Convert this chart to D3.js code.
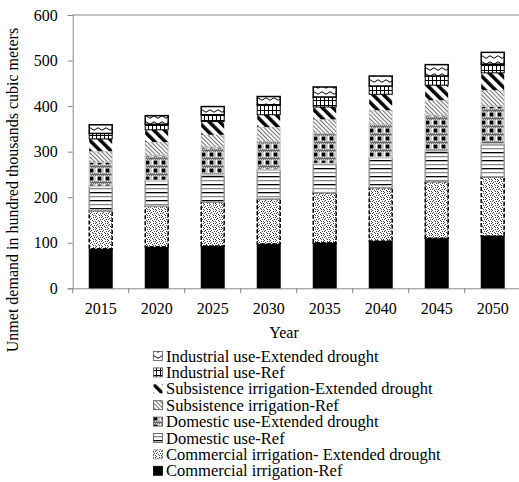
<!DOCTYPE html>
<html><head><meta charset="utf-8">
<script src="https://cdn.jsdelivr.net/npm/d3@7"></script>
<style>body{margin:0;background:#fff}svg{display:block}text{font-family:"Liberation Serif","Times New Roman",serif;fill:#000}</style>
</head><body>
<svg id="c" width="519" height="482"></svg>
<script>
const years = ["2015","2020","2025","2030","2035","2040","2045","2050"];
const commRef = [87, 91, 93, 97, 100, 104, 110, 115];
const commExt = [83, 89, 97, 99, 110, 117, 124, 130];
const domRef  = [54, 57, 59, 64, 64, 66, 67, 72];
const domExt  = [53, 55, 61, 62, 66, 73, 79, 83];
const subRef  = [24, 29, 27, 32, 31, 31, 33, 35];
const subExt  = [27, 27, 29, 27, 27, 35, 33, 38];
const indRef  = [12, 12, 15, 22, 22, 18, 20, 19];
const indExt  = [19, 19, 18, 18, 22, 22, 25, 26];
const seriesNames = ["Commercial irrigation-Ref","Commercial irrigation- Extended drought","Domestic use-Ref","Domestic use-Extended drought","Subsistence irrigation-Ref","Subsistence irrigation-Extended drought","Industrial use-Ref","Industrial use-Extended drought"];
const seriesKeys = ["commRef","commExt","domRef","domExt","subRef","subExt","indRef","indExt"];
const seriesVals = [commRef,commExt,domRef,domExt,subRef,subExt,indRef,indExt];
const yTicks = [0,100,200,300,400,500,600];

const svg = d3.select("#c");
const defs = svg.append("defs");

function pat(id, w, h, build, transform){
  const p = defs.append("pattern").attr("id", id).attr("patternUnits","userSpaceOnUse").attr("width", w).attr("height", h);
  if (transform) p.attr("patternTransform", transform);
  p.append("rect").attr("width", w).attr("height", h).attr("fill", "#fff");
  build(p);
}
pat("p-commExt", 6, 6, p => {
  [[0,0],[3,1],[1,2],[4,3],[2,4],[5,5],[0,3],[3,5],[5,1]].forEach(([x,y]) =>
    p.append("rect").attr("x",x).attr("y",y).attr("width",1).attr("height",1).attr("fill","#444"));
});
pat("p-domRef", 8, 8, p => {
  p.append("rect").attr("x",0).attr("y",0).attr("width",8).attr("height",1.3).attr("fill","#000");
  p.append("rect").attr("x",0).attr("y",4).attr("width",8).attr("height",1.3).attr("fill","#888");
});
pat("p-domExt", 8, 8, p => {
  p.append("rect").attr("x",6).attr("y",0).attr("width",2).attr("height",8).attr("fill","#ccc");
  p.append("rect").attr("x",1.5).attr("y",0.5).attr("width",4).attr("height",4).attr("fill","#000");
  p.append("rect").attr("x",0).attr("y",5.5).attr("width",8).attr("height",2).attr("fill","#999");
  [0,2,4,6].forEach(x => p.append("rect").attr("x",x).attr("y",5.5).attr("width",1).attr("height",1).attr("fill","#333"));
  [1,3,5,7].forEach(x => p.append("rect").attr("x",x).attr("y",6.5).attr("width",1).attr("height",1).attr("fill","#333"));
});
pat("p-subRef", 3, 3, p => {
  p.append("rect").attr("x",0).attr("y",0).attr("width",1.1).attr("height",3).attr("fill","#777");
}, "rotate(-45)");
pat("p-subExt", 7.5, 8, p => {
  p.append("rect").attr("x",0).attr("y",0).attr("width",3.5).attr("height",8).attr("fill","#000");
}, "rotate(-45)");
pat("p-indRef", 4, 5, p => {
  p.append("rect").attr("x",0).attr("y",0).attr("width",1).attr("height",5).attr("fill","#000");
  p.append("rect").attr("x",0).attr("y",0).attr("width",4).attr("height",1).attr("fill","#000");
});
pat("p-indExt", 8, 6, p => {
  p.append("path").attr("d","M0 3 Q2 0.5 4 3 T8 3").attr("fill","none").attr("stroke","#000").attr("stroke-width",1);
});

const styles = {
  commRef: {fill:"#000", stroke:"#000", dash:null, sw:1},
  commExt: {fill:"url(#p-commExt)", stroke:"#000", dash:"4,2", sw:1.5},
  domRef:  {fill:"url(#p-domRef)", stroke:"#999", dash:null, sw:1.5},
  domExt:  {fill:"url(#p-domExt)", stroke:"#ccc", dash:null, sw:1.5},
  subRef:  {fill:"url(#p-subRef)", stroke:"#aaa", dash:"1,1", sw:1},
  subExt:  {fill:"url(#p-subExt)", stroke:"#fff", dash:null, sw:0},
  indRef:  {fill:"url(#p-indRef)", stroke:"#000", dash:null, sw:1},
  indExt:  {fill:"url(#p-indExt)", stroke:"#000", dash:null, sw:1.5}
};

const x = d3.scaleBand().domain(years).range([72.7, 520.7]).paddingInner(0.59).paddingOuter(0.295);
const y = d3.scaleLinear().domain([0, 600]).range([288.3, 15]);

svg.append("line").attr("x1", 72.7).attr("x2", 519).attr("y1", y(600)).attr("y2", y(600)).attr("stroke", "#868686").attr("stroke-width", 1);

const table = years.map((yr, i) => {
  const o = {year: yr};
  seriesKeys.forEach((k, j) => o[k] = seriesVals[j][i]);
  return o;
});
const stacked = d3.stack().keys(seriesKeys)(table);

stacked.forEach(layer => {
  const st = styles[layer.key];
  svg.append("g").selectAll("rect").data(layer).join("rect")
    .attr("x", d => x(d.data.year))
    .attr("width", x.bandwidth())
    .attr("y", d => y(d[1]))
    .attr("height", d => y(d[0]) - y(d[1]))
    .attr("fill", st.fill)
    .attr("stroke", st.sw ? st.stroke : "none")
    .attr("stroke-width", st.sw)
    .attr("stroke-dasharray", st.dash);
});

const yAxis = svg.append("g").attr("transform", "translate(72.7,0)")
  .call(d3.axisLeft(y).tickValues(yTicks).tickSize(5).tickPadding(10));
yAxis.selectAll("path,line").attr("stroke", "#898989");
yAxis.selectAll("text").style("font-size", "16px").style("font-family", '"Liberation Serif", serif');

const xAxis = svg.append("g").attr("transform", "translate(0,288.3)")
  .call(d3.axisBottom(x).tickSize(0).tickPadding(14));
xAxis.select("path").attr("stroke", "#898989");
xAxis.selectAll("text").style("font-size", "16px").style("font-family", '"Liberation Serif", serif');
const bounds = years.map(yr => x(yr) - x.step() * x.paddingInner() / 2);
bounds.push(x(years[years.length - 1]) + x.bandwidth() + x.step() * x.paddingInner() / 2);
xAxis.selectAll("line.bt").data(bounds).join("line").attr("class", "bt")
  .attr("x1", d => d).attr("x2", d => d).attr("y1", 0).attr("y2", 5).attr("stroke", "#898989");

svg.append("text").attr("x", 284).attr("y", 338).attr("text-anchor", "middle").style("font-size", "16px").text("Year");
svg.append("text").attr("transform", "translate(18,190) rotate(-90)").attr("text-anchor", "middle").style("font-size", "16px")
  .text("Unmet demand in hundred thousands cubic meters");

const legendOrder = seriesKeys.map((k, i) => i).reverse();
const lg = svg.append("g");
legendOrder.forEach((si, r) => {
  const key = seriesKeys[si];
  const st = styles[key];
  const cy = 356 + r * 16.4;
  lg.append("rect").attr("x", 153.5).attr("y", cy - 4.5).attr("width", 9).attr("height", 9)
    .attr("fill", st.fill).attr("stroke", key === "subExt" ? "none" : (key === "commRef" ? "#000" : "#555"))
    .attr("stroke-width", 0.8).attr("stroke-dasharray", key === "commExt" ? "2,1" : null);
  lg.append("text").attr("x", 166).attr("y", cy + 5.5).style("font-size", "16.5px").text(seriesNames[si]);
});
</script>
</body></html>
